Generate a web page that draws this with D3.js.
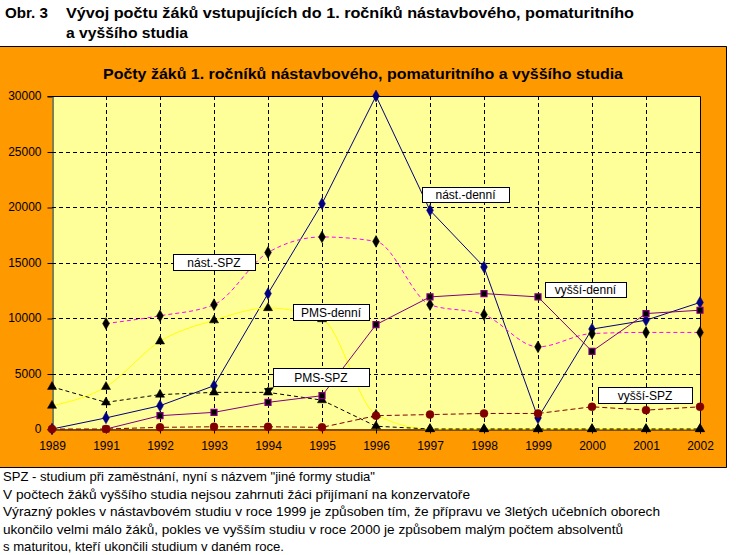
<!DOCTYPE html>
<html><head><meta charset="utf-8">
<script src="https://cdn.jsdelivr.net/npm/d3@7"></script>
<style>
html,body{margin:0;padding:0;background:#fff;}
svg{display:block;}
</style></head>
<body>
<svg id="c" width="739" height="555"></svg>
<script>
// ---------- data ----------
const years = ["1989","1991","1992","1993","1994","1995","1996","1997","1998","1999","2000","2001","2002"];
const yTicks = [0,5000,10000,15000,20000,25000,30000];
const nastDenni = [0,1000,2100,3900,12200,20300,30000,19700,14600,1000,9000,9800,11400];
const nastSPZ   = [null,9500,10200,11200,15900,17300,16900,11200,10300,7400,8600,8700,8700];
const pmsDenni  = [2100,3800,7900,9800,10900,9900,1300,0,0,0,0,0,0];
const pmsSPZ    = [3800,2400,3100,3300,3300,2600,250,0,0,0,0,0,0];
const vyssiDenni= [null,0,1200,1500,2400,3000,9400,11900,12200,11900,7000,10400,10700];
const vyssiSPZ  = [0,0,150,200,200,150,1200,1300,1400,1400,2000,1700,2000];
const seriesNames = ["nást.-denní","nást.-SPZ","PMS-denní","PMS-SPZ","vyšší-denní","vyšší-SPZ"];
const heading1a = "Obr. 3";
const heading1b = "Vývoj počtu žáků vstupujících do 1. ročníků nástavbového, pomaturitního";
const heading2 = "a vyššího studia";
const chartTitle = "Počty žáků 1. ročníků nástavbového, pomaturitního a vyššího studia";
const notes = [
 "SPZ - studium při zaměstnání, nyní s názvem \"jiné formy studia\"",
 "V počtech žáků vyššího studia nejsou zahrnuti žáci přijímaní na konzervatoře",
 "Výrazný pokles v nástavbovém studiu v roce 1999 je způsoben tím, že přípravu ve 3letých učebních oborech",
 "ukončilo velmi málo žáků, pokles ve vyšším studiu v roce 2000 je způsobem malým počtem absolventů",
 "s maturitou, kteří ukončili studium v daném roce."
];

// ---------- layout ----------
const svg = d3.select("#c");
const P = {l:52, r:700, t:96, b:429};
const x = d3.scalePoint().domain(years).range([P.l,P.r]);
const y = d3.scaleLinear().domain([0,30000]).range([P.b,P.t]);
const FONT = "'Liberation Sans', Arial, sans-serif";
const NARROW = "'Liberation Sans Narrow', 'Liberation Sans', Arial, sans-serif";

function fit(sel, w){
  const n = sel.node(); const L = n.getComputedTextLength();
  if (L>0) sel.attr("textLength", w).attr("lengthAdjust","spacingAndGlyphs");
}

// headings
const h1 = svg.append("text").attr("x",5).attr("y",18).attr("font-family",NARROW).attr("font-weight","bold").attr("font-size",15).text(heading1a);
fit(h1, 43);
const h1b = svg.append("text").attr("x",66).attr("y",18).attr("font-family",NARROW).attr("font-weight","bold").attr("font-size",15).text(heading1b);
fit(h1b, 568);
const h2 = svg.append("text").attr("x",66).attr("y",38).attr("font-family",NARROW).attr("font-weight","bold").attr("font-size",15).text(heading2);
fit(h2, 122);

// orange chart area
svg.append("rect").attr("x",0).attr("y",46).attr("width",727).attr("height",422).attr("fill","#FF9900");
svg.append("path").attr("d","M0,46.5H726.5V467.5H0").attr("fill","none").attr("stroke","#000").attr("stroke-width",1);

const t = svg.append("text").attr("x",363).attr("y",79).attr("text-anchor","middle").attr("font-family",FONT).attr("font-weight","bold").attr("font-size",14).text(chartTitle);
fit(t, 520);

// plot area
svg.append("rect").attr("x",P.l).attr("y",P.t).attr("width",P.r-P.l).attr("height",P.b-P.t).attr("fill","#FFFF99");

// grid
const g = svg.append("g");
g.selectAll(".hg").data(yTicks.filter(v=>v>0 && v<30000)).join("line")
 .attr("x1",P.l).attr("x2",P.r).attr("y1",d=>Math.round(y(d))+0.5).attr("y2",d=>Math.round(y(d))+0.5)
 .attr("stroke","#000").attr("stroke-dasharray","4,3");
g.selectAll(".vg").data(years.slice(1,-1)).join("line")
 .attr("x1",d=>Math.round(x(d))+0.5).attr("x2",d=>Math.round(x(d))+0.5).attr("y1",P.t).attr("y2",P.b)
 .attr("stroke","#000").attr("stroke-dasharray","4,3");

// border top/right
svg.append("path").attr("d",`M${P.l},${P.t+0.5}H${P.r+0.5}V${P.b}`).attr("fill","none").attr("stroke","#000");

// axes
const yAxis = d3.axisLeft(y).tickValues(yTicks).tickSize(5).tickPadding(6).tickFormat(d3.format("d"));
const ya = svg.append("g").attr("transform",`translate(${P.l+0.5},0)`).call(yAxis);
const xAxis = d3.axisBottom(x).tickSize(4).tickPadding(8);
const xa = svg.append("g").attr("transform",`translate(0,${P.b+0.5})`).call(xAxis);
[ya,xa].forEach(a=>{
  a.select(".domain").attr("stroke","#000");
  a.selectAll(".tick line").attr("stroke","#000");
  a.selectAll("text").attr("font-family",FONT).attr("font-size",12).attr("fill","#000");
});
ya.selectAll(".tick line").attr("transform","translate(0,0.5)");

// series
const defs = [
 {name:seriesNames[0], data:nastDenni, color:"#000080", dash:null, marker:"diamond", mfill:"#000080", mstroke:"#000080", smooth:false},
 {name:seriesNames[1], data:nastSPZ, color:"#FF00FF", dash:"4,3", marker:"diamond", mfill:"#000", mstroke:"#000", smooth:true},
 {name:seriesNames[2], data:pmsDenni, color:"#FFFF00", dash:null, marker:"triangle", mfill:"#000", mstroke:"#000", smooth:true},
 {name:seriesNames[3], data:pmsSPZ, color:"#000", dash:"4,3", marker:"triangle", mfill:"#000", mstroke:"#000", smooth:false},
 {name:seriesNames[4], data:vyssiDenni, color:"#800080", dash:null, marker:"square", mfill:"#000", mstroke:"#800080", smooth:false},
 {name:seriesNames[5], data:vyssiSPZ, color:"#800000", dash:"5,3", marker:"circle", mfill:"#800000", mstroke:"#800000", smooth:false}
];
const symType = {diamond:d3.symbolDiamond, triangle:d3.symbolTriangle, square:d3.symbolSquare, circle:d3.symbolCircle};
const symSize = {diamond:40, triangle:36, square:36, circle:50};
defs.forEach(s=>{
  const pts = years.map((k,i)=>({k, v:s.data[i]}));
  const line = d3.line().defined(d=>d.v!=null).x(d=>x(d.k)).y(d=>y(d.v))
    .curve(s.smooth ? d3.curveMonotoneX : d3.curveLinear);
  svg.append("path").datum(pts).attr("d",line).attr("fill","none").attr("stroke",s.color).attr("stroke-width",1)
    .attr("stroke-dasharray",s.dash);
});
defs.forEach(s=>{
  const pts = years.map((k,i)=>({k, v:s.data[i]})).filter(d=>d.v!=null);
  svg.append("g").selectAll("path").data(pts).join("path")
    .attr("transform",d=>`translate(${x(d.k)},${y(d.v)})`)
    .attr("d",d3.symbol().type(symType[s.marker]).size(symSize[s.marker]))
    .attr("fill",s.mfill).attr("stroke",s.mstroke).attr("stroke-width",s.marker==="square"?1.2:0.5);
});

// data labels (series names)
const labels = [
 {text:seriesNames[0], x:422, y:187, w:87, h:15},
 {text:seriesNames[1], x:173, y:254, w:82, h:16},
 {text:seriesNames[2], x:293, y:304, w:76, h:16},
 {text:seriesNames[3], x:273, y:368, w:96, h:18},
 {text:seriesNames[4], x:545, y:282, w:81, h:15},
 {text:seriesNames[5], x:598, y:387, w:94, h:16}
];
// pointer for PMS-SPZ
svg.append("path").attr("d",`M${x("1994")-4},${y(3300)-4}L${x("1994")+6},${y(3300)-5}L${x("1994")},${y(3300)+3}Z`).attr("fill","#000");
const lg = svg.append("g");
labels.forEach(l=>{
  lg.append("rect").attr("x",l.x+0.5).attr("y",l.y+0.5).attr("width",l.w).attr("height",l.h).attr("fill","#fff").attr("stroke","#000");
  lg.append("text").attr("x",l.x+l.w/2).attr("y",l.y+l.h/2+4.5).attr("text-anchor","middle")
    .attr("font-family",FONT).attr("font-size",12).text(l.text);
});

// notes
const noteW = [372, 467, 657, 620, 281];
notes.forEach((n,i)=>{
  const tx = svg.append("text").attr("x",3).attr("y",481+i*17.6).attr("font-family",NARROW).attr("font-size",13).text(n);
  fit(tx, noteW[i]);
});
</script>
</body></html>
